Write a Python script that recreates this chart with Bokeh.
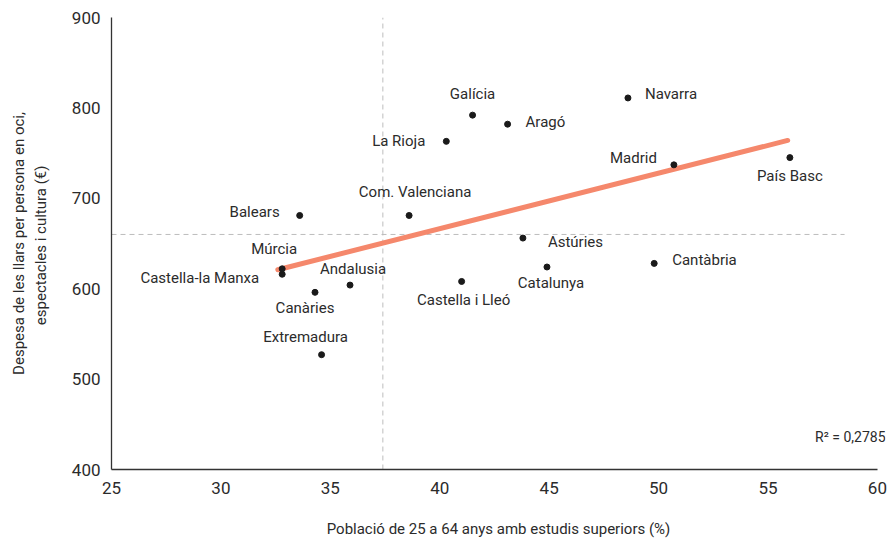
from bokeh.plotting import figure
from bokeh.models import ColumnDataSource, Label, FixedTicker, Range1d
from bokeh.embed import file_html
from bokeh.resources import INLINE

regions = ["Galícia", "Aragó", "La Rioja", "Navarra", "Madrid", "País Basc",
           "Com. Valenciana", "Balears", "Astúries", "Catalunya", "Cantàbria",
           "Castella i Lleó", "Múrcia", "Castella-la Manxa", "Andalusia",
           "Canàries", "Extremadura"]
higher_ed = [41.5, 43.1, 40.3, 48.6, 50.7, 56.0,
             38.6, 33.6, 43.8, 44.9, 49.8,
             41.0, 32.8, 32.8, 35.9,
             34.3, 34.6]
spending = [792, 782, 763, 811, 737, 745,
            681, 681, 656, 624, 628,
            608, 622, 616, 604,
            596, 527]
mean_x = 37.4
mean_y = 660
trend_x = [32.6, 55.9]
trend_y = [621, 764]
x_ticks = [25, 30, 35, 40, 45, 50, 55, 60]
y_ticks = [400, 500, 600, 700, 800, 900]
r2_text = "R² = 0,2785"

FONT = "Roboto"
TXT = "#2b2b2b"

# label placement: (align, baseline, dx, dy)
place = {
    "Galícia": ("center", "bottom", 0, 12),
    "Aragó": ("left", "middle", 18, 2),
    "La Rioja": ("right", "middle", -21, 0),
    "Navarra": ("left", "middle", 17, 4),
    "Madrid": ("right", "middle", -17, 7),
    "País Basc": ("center", "top", 0, -9),
    "Com. Valenciana": ("center", "bottom", 6, 14),
    "Balears": ("right", "middle", -20, 3),
    "Astúries": ("left", "middle", 25, -4),
    "Catalunya": ("center", "top", 4, -7),
    "Cantàbria": ("left", "middle", 18, 3),
    "Castella i Lleó": ("center", "top", 2, -10),
    "Múrcia": ("center", "bottom", -8, 11),
    "Castella-la Manxa": ("right", "middle", -23, -4),
    "Andalusia": ("center", "bottom", 3, 7),
    "Canàries": ("center", "top", -10, -7),
    "Extremadura": ("center", "bottom", -16, 9),
}

p = figure(width=888, height=540, output_backend="svg", toolbar_location=None,
           x_range=Range1d(25, 60.37), y_range=Range1d(400, 900),
           min_border_left=111, min_border_right=3, min_border_top=17,
           min_border_bottom=69)
p.outline_line_color = None
p.grid.grid_line_color = None
p.background_fill_color = "white"
p.border_fill_color = "white"

# mean lines
p.line([mean_x, mean_x], [400, 900], line_color="#bdbdbd", line_width=1, line_dash="5 4")
p.line([25, 58.5], [mean_y, mean_y], line_color="#bdbdbd", line_width=1, line_dash="5 4")

# trend line
p.line(trend_x, trend_y, line_color="#f5886c", line_width=5, line_cap="round")

src = ColumnDataSource(dict(x=higher_ed, y=spending, name=regions))
p.scatter("x", "y", source=src, size=6, color="#1a1a1a")

for name, xv, yv in zip(regions, higher_ed, spending):
    a, b, dx, dy = place[name]
    p.add_layout(Label(x=xv, y=yv, x_offset=dx, y_offset=dy, text=name,
                       text_align=a, text_baseline=b, text_font=FONT,
                       text_font_size="15px", text_color=TXT))

p.add_layout(Label(x=60.37, y=400, x_offset=0, y_offset=33, text=r2_text,
                   text_align="right", text_baseline="middle", text_font=FONT,
                   text_font_size="14px", text_color=TXT))

for ax in (p.xaxis[0], p.yaxis[0]):
    ax.axis_line_color = "#333333"
    ax.axis_line_width = 1.3
    ax.major_tick_in = 0
    ax.major_tick_out = 0
    ax.minor_tick_line_color = None
    ax.major_label_text_font = FONT
    ax.major_label_text_font_size = "17px"
    ax.major_label_text_color = TXT
    ax.axis_label_text_font = FONT
    ax.axis_label_text_font_size = "15px"
    ax.axis_label_text_font_style = "normal"
    ax.axis_label_text_color = TXT

p.xaxis.bounds = (25, 60)
p.xaxis.ticker = FixedTicker(ticks=x_ticks)
p.yaxis.ticker = FixedTicker(ticks=y_ticks)
p.xaxis.major_label_standoff = 12
p.yaxis.major_label_standoff = 11
p.xaxis.axis_label = "Població de 25 a 64 anys amb estudis superiors (%)"
p.yaxis.axis_label = "Despesa de les llars per persona en oci,\nespectacles i  cultura (€)"
p.xaxis.axis_label_standoff = 23
p.yaxis.axis_label_standoff = 19

open("out.html", "w").write(file_html(p, INLINE))
